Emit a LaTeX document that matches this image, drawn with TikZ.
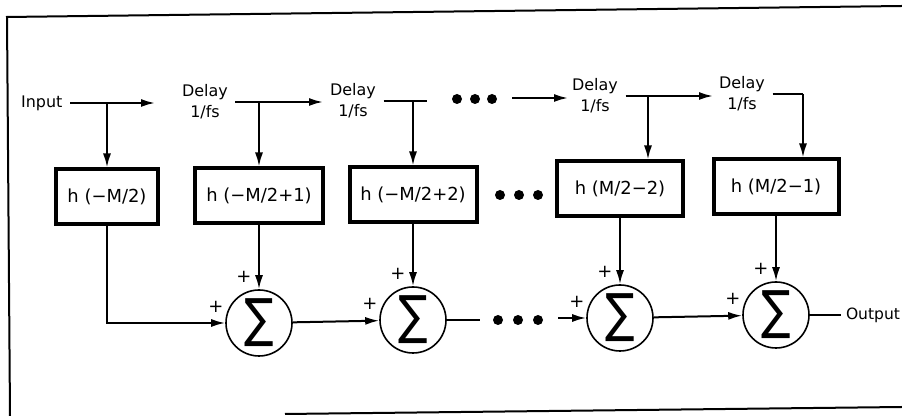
\documentclass[tikz,border=0pt]{standalone}
\usepackage{fontspec}
\setmainfont{DejaVu Sans}
\usetikzlibrary{arrows.meta}

\begin{document}
\begin{tikzpicture}
	[x=0.5bp,y=-0.5bp,line width=1bp,
	every node/.style={font=\fontsize{8}{10.5}\selectfont},
	coef/.style={draw,line width=2bp,minimum height=27.5bp,
		inner sep=0pt,font=\fontsize{9}{11}\selectfont},
	sum/.style={circle,draw,line width=0.8bp,minimum size=33bp,inner sep=0pt},
	plus/.style={inner sep=0pt,font=\fontsize{9}{10}\selectfont},
	dot/.style={circle,fill,inner sep=0pt,minimum size=5bp},
	sig/.style={-{Latex[length=7bp,width=4bp]}}]

	\useasboundingbox (0,0) rectangle (902,416);

	%%frame
	\draw (902,6) -- (7,17) -- (10,416);
	\draw (285,414) -- (902,407);

	%%delay line
	\node[anchor=east] (in) at (70,103) {Input};
	\node[align=center] (dl1) at (205,102) {Delay\\1/fs};
	\node[align=center] (dl2) at (353,101) {Delay\\1/fs};
	\node[align=center] (dl3) at (595,96)  {Delay\\1/fs};
	\node[align=center] (dl4) at (742,94)  {Delay\\1/fs};

	\coordinate (t1) at (107,103);
	\coordinate (a1) at (155,103);
	\coordinate (t2) at (259,102);
	\coordinate (a2) at (323,102);
	\coordinate (t3) at (413,101);
	\coordinate (e3) at (427,101);
	\coordinate (b3) at (512,98);
	\coordinate (a3) at (568,98);
	\coordinate (t4) at (648,96);
	\coordinate (a4) at (713,96);
	\coordinate (c5) at (803,94);

	\foreach \i/\x/\y in {1/457/99,2/475/99,3/492/99}
		\node[dot] (ud\i) at (\x,\y) {};

	%%coefficients
	\node[coef, minimum width=51bp]   (h1) at (107,197) {h (−M/2)};
	\node[coef, minimum width=64bp]   (h2) at (259,196) {h (−M/2+1)};
	\node[coef, minimum width=63.5bp] (h3) at (413,195) {h (−M/2+2)};
	\node[coef, minimum width=63bp]   (h4) at (620,189) {h (M/2−2)};
	\node[coef, minimum width=62.5bp] (h5) at (776,187) {h (M/2−1)};

	\foreach \i/\x in {1/500,2/519,3/538}
		\node[dot] (md\i) at (\x,195) {};

	%%adders
	\node[sum] (s1) at (259,323) {\scalebox{1}[1.2]{\fontsize{22}{22}\selectfont ∑}};
	\node[sum] (s2) at (413,320) {\scalebox{1}[1.2]{\fontsize{22}{22}\selectfont ∑}};
	\node[sum] (s3) at (620,318) {\scalebox{1}[1.2]{\fontsize{22}{22}\selectfont ∑}};
	\node[sum] (s4) at (776,315) {\scalebox{1}[1.2]{\fontsize{22}{22}\selectfont ∑}};
	\node[anchor=west, inner sep=0pt, font=\fontsize{7.8}{9}\selectfont]
		(out) at (845,315) {Output};

	\coordinate (e5) at (480,320);
	\coordinate (b5) at (558,318);

	\foreach \i/\x in {1/498,2/518,3/538}
		\node[dot] (ld\i) at (\x,320) {};

	\foreach \s in {1,...,4}{
		\node[plus] (pt\s) at ([shift={(-15,-46)}]s\s) {+};
		\node[plus] (pl\s) at ([shift={(-43,-16)}]s\s) {+};
	}

	\foreach \from/\to in {in/a1,dl1/a2,b3/a3,dl3/a4,b5/s3,s1/s2,s3/s4}
		\draw[sig] (\from) -- (\to);

	\foreach \from/\to in {dl2/e3,dl4/c5,s2/e5}
		\draw (\from) -- (\to);
	\draw (s4) -- ([xshift=-2bp]out.west);

	\foreach \from/\to in {t1/h1,t2/h2,t3/h3,t4/h4,c5/h5}
		\draw[sig] (\from) -- (\from |- \to.north);

	\foreach \from/\to in {h2/s1,h3/s2,h4/s3,h5/s4}
		\draw[sig] (\from.south -| \to.north) -- (\to.north);

	\draw[sig] (h1.south) |- (s1.west);
\end{tikzpicture}
\end{document}
